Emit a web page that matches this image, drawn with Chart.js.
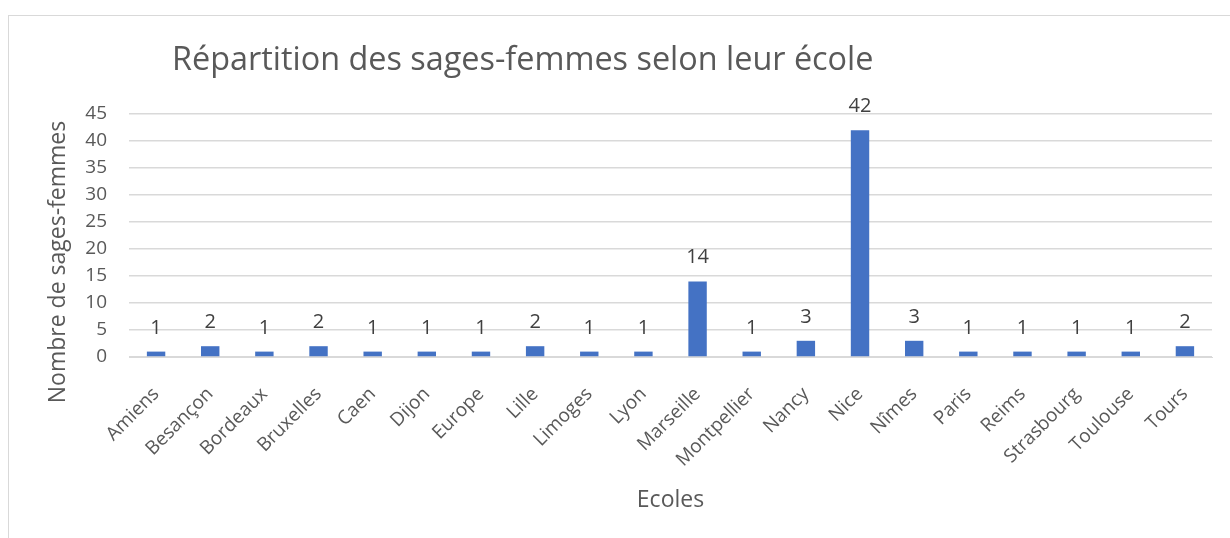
<!DOCTYPE html>
<html>
<head>
<meta charset="utf-8">
<script src="https://cdn.jsdelivr.net/npm/chart.js@4"></script>
<style>
  html, body { margin: 0; padding: 0; background: #fff; }
  body { width: 1230px; height: 538px; overflow: hidden; position: relative; }
  #cadre { position: absolute; left: 8px; top: 15px; width: 1300px; height: 600px; border: 1px solid #d9d9d9; }
  #zone { position: absolute; left: 0; top: 0; width: 1230px; height: 538px; }
</style>
</head>
<body>
<div id="cadre"></div>
<div id="zone"><canvas id="chart" width="1230" height="538"></canvas></div>
<script>
const ecoles = ["Amiens", "Besançon", "Bordeaux", "Bruxelles", "Caen", "Dijon", "Europe", "Lille", "Limoges", "Lyon",
    "Marseille", "Montpellier", "Nancy", "Nice", "Nîmes", "Paris", "Reims", "Strasbourg", "Toulouse", "Tours"];
const nombres = [1, 2, 1, 2, 1, 1, 1, 2, 1, 1, 14, 1, 3, 42, 3, 1, 1, 1, 1, 2];
const titre = "Répartition des sages-femmes selon leur école";
const titreY = "Nombre de sages-femmes";
const police = "'Open Sans', 'Noto Sans', sans-serif";

// titre, titre vertical et étiquettes de valeurs dessinés à la main
const etiquettes = {
    id: "etiquettes",
    afterDatasetsDraw(chart) {
        const ctx = chart.ctx;
        ctx.save();
        ctx.font = "20px " + police;
        ctx.fillStyle = "#404040";
        ctx.textAlign = "center";
        ctx.textBaseline = "alphabetic";
        chart.getDatasetMeta(0).data.forEach((barre, i) => {
            ctx.fillText(nombres[i], barre.x, barre.y - 18);
        });
        ctx.font = "32.4px " + police;
        ctx.fillStyle = "#595959";
        ctx.textAlign = "left";
        ctx.fillText(titre, 172, 70);
        ctx.translate(58, 262);
        ctx.rotate(-Math.PI / 2);
        ctx.font = "23px " + police;
        ctx.textAlign = "center";
        ctx.textBaseline = "middle";
        ctx.fillText(titreY, 0, 0);
        ctx.restore();
    }
};

new Chart(document.getElementById("chart"), {
    type: "bar",
    data: {
        labels: ecoles,
        datasets: [{
            label: "Nombre de sages-femmes",
            data: nombres,
            backgroundColor: "#4472C4",
            barPercentage: 0.34,
            categoryPercentage: 1
        }]
    },
    options: {
        responsive: false,
        animation: false,
        layout: { padding: { top: 114, right: 18, left: 0, bottom: 0 } },
        plugins: {
            legend: { display: false },
            tooltip: { enabled: false }
        },
        scales: {
            x: {
                grid: { display: false },
                border: { color: "#d9d9d9" },
                ticks: {
                    color: "#595959",
                    font: { family: police, size: 19 },
                    maxRotation: 45,
                    minRotation: 45,
                    autoSkip: false,
                    padding: 18
                },
                title: {
                    display: true,
                    text: "Ecoles",
                    color: "#595959",
                    font: { family: police, size: 23 },
                    padding: { top: 0, bottom: 24 }
                },
                afterFit(scale) { scale.height = 181; }
            },
            y: {
                min: 0,
                max: 45,
                ticks: {
                    stepSize: 5,
                    color: "#595959",
                    font: { family: police, size: 19 },
                    padding: 22
                },
                grid: { color: "#d9d9d9", lineWidth: 1.5, drawTicks: false },
                border: { display: false },
                afterFit(scale) { scale.width = 129; }
            }
        }
    },
    plugins: [etiquettes]
});
</script>
</body>
</html>
